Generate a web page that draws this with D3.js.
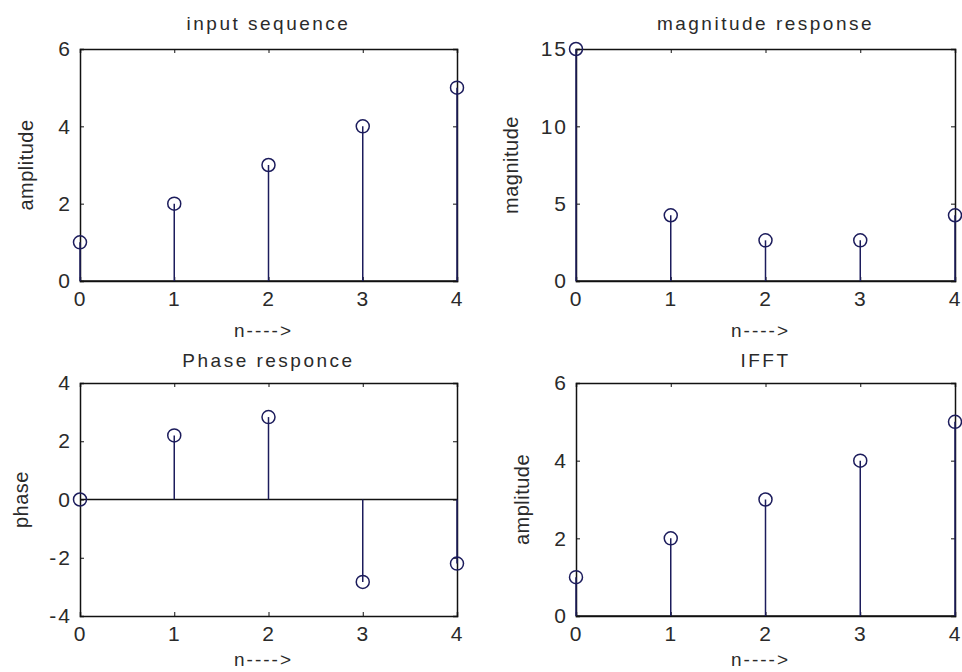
<!DOCTYPE html>
<html>
<head>
<meta charset="utf-8">
<script src="https://cdn.jsdelivr.net/npm/d3@7"></script>
<style>
  body { margin: 0; background: #fff; }
  svg { display: block; font-family: "Liberation Sans", Arial, sans-serif; }
</style>
</head>
<body>
<div id="chart"></div>
<script>
// data
var n = [0, 1, 2, 3, 4];
var inputSeq = [1, 2, 3, 4, 5];
var magnitude = [15, 4.25, 2.63, 2.63, 4.25];
var phase = [0, 2.2, 2.83, -2.83, -2.2];
var ifftSeq = [1, 2, 3, 4, 5];

var titles = ["input sequence", "magnitude response", "Phase responce", "IFFT"];
var yLabels = ["amplitude", "magnitude", "phase", "amplitude"];
var xLabel = "n---->";
var yDomains = [[0, 6], [0, 15], [-4, 4], [0, 6]];
var yTicks = [[0, 2, 4, 6], [0, 5, 10, 15], [-4, -2, 0, 2, 4], [0, 2, 4, 6]];
var series = [inputSeq, magnitude, phase, ifftSeq];

var W = 962, H = 672;
var stemColor = "#1c1c5c";
var textColor = "#2a2a2a";

var svg = d3.select("#chart")
  .append("svg")
  .attr("width", W)
  .attr("height", H);

// panel boxes: left, top, width, height, y-label baseline x, title offset, x-label offset
var boxes = [
  {x: 80,  y: 49,  w: 377, h: 232, lx: 33,  ty: -19, xy: 56},
  {x: 576, y: 49,  w: 379, h: 232, lx: 518, ty: -19, xy: 56},
  {x: 80,  y: 383, w: 377, h: 233, lx: 28,  ty: -16, xy: 50},
  {x: 576, y: 383, w: 379, h: 233, lx: 529, ty: -16, xy: 50}
];

// plain hyphen for negatives, like the original
var fmt = function(d) { return String(d); };

boxes.forEach(function(b, i) {
  var g = svg.append("g").attr("transform", "translate(" + b.x + "," + b.y + ")");

  var x = d3.scaleLinear().domain([0, 4]).range([0, b.w]);
  var y = d3.scaleLinear().domain(yDomains[i]).range([b.h, 0]);

  // axes with inward ticks on all four sides
  g.append("g").attr("transform", "translate(0," + b.h + ")")
    .call(d3.axisBottom(x).tickValues(n).tickSize(-4).tickPadding(10).tickFormat(fmt));
  g.append("g")
    .call(d3.axisLeft(y).tickValues(yTicks[i]).tickSize(-4).tickPadding(8).tickFormat(fmt));
  g.append("g")
    .call(d3.axisTop(x).tickValues(n).tickSize(-4).tickFormat(""));
  g.append("g").attr("transform", "translate(" + b.w + ",0)")
    .call(d3.axisRight(y).tickValues(yTicks[i]).tickSize(-4).tickFormat(""));

  g.selectAll(".domain").attr("stroke", "#111").attr("stroke-width", 1.5);
  g.selectAll(".tick line").attr("stroke", "#111");
  g.selectAll(".tick text")
    .attr("font-size", "21px")
    .attr("letter-spacing", "2px")
    .attr("fill", textColor)
    .attr("font-family", "'Liberation Sans', Arial, sans-serif");

  // baseline at zero
  g.append("line")
    .attr("x1", 0).attr("x2", b.w)
    .attr("y1", y(0)).attr("y2", y(0))
    .attr("stroke", "#111").attr("stroke-width", 1.5);

  var pts = n.map(function(d, k) { return {n: d, v: series[i][k]}; });

  g.selectAll(".stem")
    .data(pts)
    .enter()
    .append("line")
    .attr("class", "stem")
    .attr("x1", function(d) { return x(d.n); })
    .attr("x2", function(d) { return x(d.n); })
    .attr("y1", y(0))
    .attr("y2", function(d) { return y(d.v); })
    .attr("stroke", stemColor)
    .attr("stroke-width", 1.5);

  g.selectAll(".mark")
    .data(pts)
    .enter()
    .append("circle")
    .attr("class", "mark")
    .attr("cx", function(d) { return x(d.n); })
    .attr("cy", function(d) { return y(d.v); })
    .attr("r", 6.5)
    .attr("fill", "none")
    .attr("stroke", stemColor)
    .attr("stroke-width", 1.5);

  // title
  g.append("text")
    .attr("x", b.w / 2)
    .attr("y", b.ty)
    .attr("text-anchor", "middle")
    .attr("font-size", "19px")
    .attr("letter-spacing", "2.5px")
    .attr("fill", textColor)
    .text(titles[i]);

  // x label
  g.append("text")
    .attr("x", b.w / 2 - 5)
    .attr("y", b.h + b.xy)
    .attr("text-anchor", "middle")
    .attr("font-size", "19px")
    .attr("letter-spacing", "2px")
    .attr("fill", textColor)
    .text(xLabel);

  // y label
  svg.append("text")
    .attr("transform", "translate(" + b.lx + "," + (b.y + b.h / 2) + ") rotate(-90)")
    .attr("text-anchor", "middle")
    .attr("font-size", "20px")
    .attr("letter-spacing", "0.5px")
    .attr("fill", textColor)
    .text(yLabels[i]);
});
</script>
</body>
</html>
